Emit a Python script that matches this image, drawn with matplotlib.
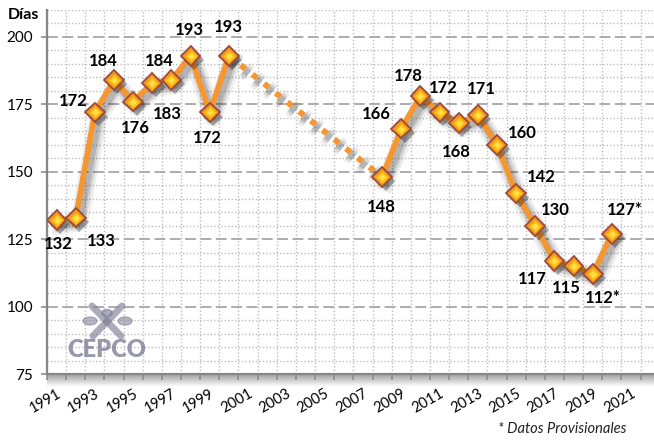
import numpy as np
import matplotlib
matplotlib.use("Agg")
import matplotlib.pyplot as plt
import matplotlib.patheffects as pe
from matplotlib.patches import Ellipse, Circle
from matplotlib.lines import Line2D

# Días promedio por año (los dos últimos son provisionales)
years = [1991, 1992, 1993, 1994, 1995, 1996, 1997, 1998, 1999, 2000,
         2008, 2009, 2010, 2011, 2012, 2013, 2014, 2015, 2016, 2017,
         2018, 2019, 2020]
dias = [132, 133, 172, 184, 176, 183, 184, 193, 172, 193,
        148, 166, 178, 172, 168, 171, 160, 142, 130, 117,
        115, 112, 127]
provisional = [False] * 21 + [True, True]

yticks = [75, 100, 125, 150, 175, 200]
xtick_labels = list(range(1991, 2022, 2))

# Desplazamiento (px) de cada etiqueta de valor respecto a su punto
label_offsets = [(2, 23), (26, 23), (-22, -12), (-11, -20), (2, 26), (15, 30),
                 (-12, -20), (-1, -27), (-2, 25), (-1, -30), (-1, 29),
                 (-25, -15), (-12, -21), (4, -25), (-2, 28), (3, -27),
                 (25, -13), (25, -17), (20, -17), (-22, 17), (-7, 21),
                 (10, 23), (13, -25)]

plt.rcParams['font.family'] = ['Lato', 'DejaVu Sans']

W, H = 654, 440
fig = plt.figure(figsize=(W / 100, H / 100), dpi=100)
fig.patch.set_facecolor('white')

L, R, B, T = 47, 654, 374, 10
ax = fig.add_axes([L / W, 1 - B / H, (R - L) / W, (B - T) / H])
ax.set_zorder(2)
ax.patch.set_alpha(0)

# shadow band under the category axis
sh = fig.add_axes([L / W, 1 - (B + 13) / H, (R - L) / W, 13 / H])
sh.set_zorder(1)
grad = np.linspace(0.55, 1.0, 50).reshape(-1, 1) ** 0.8
sh.imshow(np.repeat(grad, 2, axis=1), cmap='gray', vmin=0, vmax=1,
          aspect='auto', extent=[0, 1, 0, 1], interpolation='bilinear')
sh.axis('off')

ax.set_xlim(1990.5, 2022.2)
ax.set_ylim(75, 210)

orange = '#F7952F'
line_shadow = [pe.SimpleLineShadow(offset=(2.5, -3.5), shadow_color='black', alpha=0.07, linewidth=13),
               pe.SimpleLineShadow(offset=(2.5, -3.5), shadow_color='black', alpha=0.10, linewidth=9),
               pe.SimpleLineShadow(offset=(2.5, -3.5), shadow_color='black', alpha=0.15, linewidth=5.5),
               pe.Normal()]

# solid segments, split where years are not consecutive
seg_start = 0
for i in range(1, len(years) + 1):
    if i == len(years) or years[i] - years[i - 1] > 1:
        ax.plot(years[seg_start:i], dias[seg_start:i], color=orange, lw=4.0,
                solid_joinstyle='round', zorder=3, path_effects=line_shadow)
        if i < len(years):
            ax.plot([years[i - 1], years[i]], [dias[i - 1], dias[i]], color=orange,
                    lw=4.3, linestyle=(0, (1.0, 1.5)), dash_capstyle='butt',
                    zorder=3, path_effects=line_shadow)
        seg_start = i

# diamond markers with a warm gradient look
ax.plot(years, dias, 'D', ms=10, mfc='#F39A1E', mec='#9C4A3A', mew=1.3, zorder=4,
        path_effects=[pe.SimplePatchShadow(offset=(2.5, -3), shadow_rgbFace='black', alpha=0.3),
                      pe.Normal()])
ax.plot(years, dias, 'D', ms=6.4, mfc='#FFC21A', mec='none', zorder=5)
ax.plot(years, dias, 'D', ms=3.4, mfc='#FFE24A', mec='none', zorder=6)

for x, y, p, (dx, dy) in zip(years, dias, provisional, label_offsets):
    txt = f"{y}*" if p else f"{y}"
    ax.annotate(txt, (x, y), xytext=(dx, -(dy + 5.8)), textcoords='offset pixels',
                ha='center', va='baseline', fontsize=12, fontweight='bold',
                color='black', zorder=7)

# grid
ax.set_yticks(yticks)
ax.set_yticks(np.arange(75, 211, 5), minor=True)
bounds = np.arange(1990.5, 2022.0, 1.0)
ax.set_xticks(bounds)
ax.set_xticklabels([])
ax.set_xticks(xtick_labels, minor=True)
ax.set_xticklabels([str(v) for v in xtick_labels], minor=True, rotation=30,
                   ha='right', va='top', rotation_mode='anchor', fontsize=10.5)
ax.tick_params(axis='x', which='minor', length=0, pad=9)
ax.tick_params(axis='x', which='major', length=4, width=1.2, color='#8C8C8C', direction='out')
ax.tick_params(axis='y', which='major', length=4, width=1.2, color='#8C8C8C', labelsize=11, pad=6)
ax.tick_params(axis='y', which='minor', length=0)

ax.grid(axis='x', which='major', color='#BDBDBD', lw=1.0, linestyle=(0, (1, 1.5)))
ax.grid(axis='y', which='minor', color='#BDBDBD', lw=1.0, linestyle=(0, (1, 1.5)))
ax.grid(axis='y', which='major', color='#A6A6A6', lw=1.3, linestyle=(0, (6, 2.5)))
ax.set_axisbelow(True)

for s in ['top', 'right']:
    ax.spines[s].set_visible(False)
for s in ['left', 'bottom']:
    ax.spines[s].set_color('#868686')
    ax.spines[s].set_linewidth(1.6)

fig.text(8 / W, 1 - 15 / H, 'Días', fontsize=11.5, fontweight='bold', ha='left', va='center')
fig.text(562 / W, 1 - 429 / H, '* Datos Provisionales', fontsize=10.5, style='italic',
         ha='center', va='center', color='#222222')

# CEPCO logo
logo_col = '#7E7E96'
def fp(x, y):
    return (x / W, 1 - y / H)
fig.text(*fp(107, 350), 'CEPCO', fontsize=17, fontweight='heavy', color=logo_col,
         alpha=0.8, ha='center', va='center', zorder=3)
for (x0, y0, x1, y1) in [(92, 306, 121, 336), (122, 306, 93, 336)]:
    fig.add_artist(Line2D([x0 / W, x1 / W], [1 - y0 / H, 1 - y1 / H], color=logo_col,
                          lw=5, alpha=0.65, solid_capstyle='round', zorder=3))
for cx in (90, 125):
    fig.add_artist(Ellipse(fp(cx, 321), 14 / W, 8 / H, color=logo_col, alpha=0.55, zorder=3))
fig.add_artist(Circle(fp(107, 313), 0.008, color=logo_col, alpha=0.65, zorder=3))

fig.savefig('out.png', dpi=100, facecolor='white')
